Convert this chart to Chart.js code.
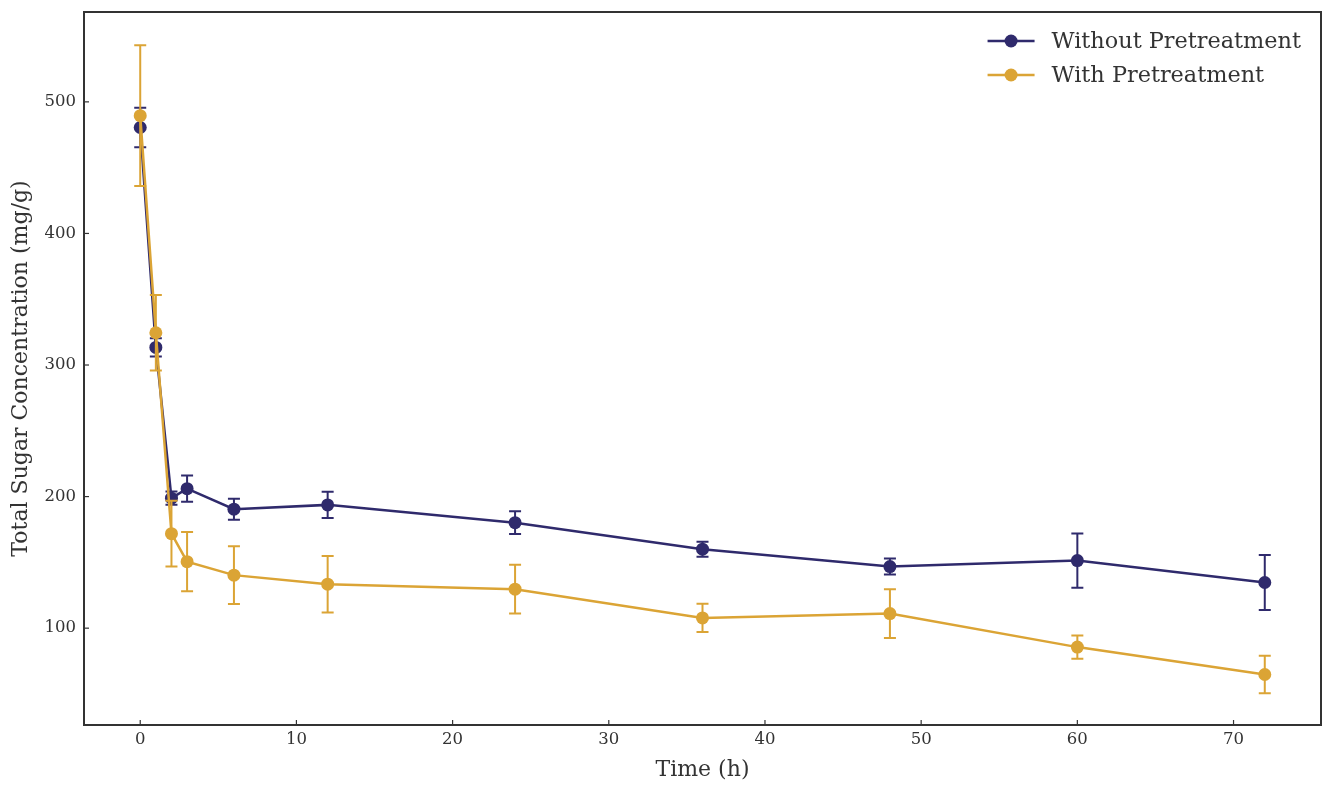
<!DOCTYPE html>
<html>
<head>
<meta charset="utf-8">
<script src="https://cdn.jsdelivr.net/npm/chart.js@4/dist/chart.umd.min.js"></script>
<style>
    body { margin: 0; background: #fff; }
    #wrap { width: 1332px; height: 790px; }
</style>
</head>
<body>
<div id="wrap"><canvas id="sugarChart" width="1332" height="790"></canvas></div>
<script>
// sampling times (h)
const hours = [0, 1, 2, 3, 6, 12, 24, 36, 48, 60, 72];

// total sugar, mg/g
const withoutMean = [480.5, 313.4, 198.8, 206.0, 190.4, 193.7, 180.2, 160.0, 146.8, 151.4, 134.7];
const withoutErr  = [15.0, 7.0, 5.0, 10.0, 8.0, 10.0, 8.6, 5.7, 6.1, 20.6, 20.9];
const withMean    = [489.5, 324.5, 171.8, 150.5, 140.3, 133.4, 129.6, 107.8, 111.1, 85.6, 64.8];
const withErr     = [53.5, 28.7, 25.0, 22.5, 22.0, 21.5, 18.5, 10.7, 18.5, 8.8, 14.2];

const xTicks = [0, 10, 20, 30, 40, 50, 60, 70];
const yTicks = [100, 200, 300, 400, 500];
const xLimits = [-3.6, 75.6];
const yLimits = [26.4, 568.3];

const NAVY = '#2f2a6c';
const GOLD = '#dba435';
const AXIS = '#333333';
const FONT = "'DejaVu Serif', serif";

const errors = [withoutErr, withErr];

function toPoints(ys) {
    return hours.map((h, i) => ({x: h, y: ys[i]}));
}

// error bars, under each dataset's own markers
const errorBars = {
    id: 'errorBars',
    beforeDatasetDraw(chart, args) {
        const ds = chart.data.datasets[args.index];
        const err = errors[args.index];
        const {x, y} = chart.scales;
        const ctx = chart.ctx;
        ctx.save();
        ctx.strokeStyle = ds.borderColor;
        ctx.lineWidth = 2;
        ds.data.forEach((p, i) => {
            const px = x.getPixelForValue(p.x);
            const top = y.getPixelForValue(p.y + err[i]);
            const bot = y.getPixelForValue(p.y - err[i]);
            ctx.beginPath();
            ctx.moveTo(px, top); ctx.lineTo(px, bot);
            ctx.moveTo(px - 6, top); ctx.lineTo(px + 6, top);
            ctx.moveTo(px - 6, bot); ctx.lineTo(px + 6, bot);
            ctx.stroke();
        });
        ctx.restore();
    }
};

// frame, inward ticks and the legend inside the axes
const frame = {
    id: 'frame',
    afterDraw(chart) {
        const {ctx, chartArea: a, scales} = chart;
        ctx.save();
        ctx.strokeStyle = AXIS;
        ctx.lineWidth = 1.2;
        xTicks.forEach(t => {
            const px = scales.x.getPixelForValue(t);
            ctx.beginPath(); ctx.moveTo(px, a.bottom); ctx.lineTo(px, a.bottom - 5); ctx.stroke();
        });
        yTicks.forEach(t => {
            const py = scales.y.getPixelForValue(t);
            ctx.beginPath(); ctx.moveTo(a.left, py); ctx.lineTo(a.left + 5, py); ctx.stroke();
        });
        ctx.lineWidth = 2;
        ctx.strokeRect(a.left, a.top, a.right - a.left, a.bottom - a.top);

        ctx.font = '22.4px ' + FONT;
        ctx.textBaseline = 'middle';
        const sets = chart.data.datasets;
        const w = Math.max(...sets.map(d => ctx.measureText(d.label).width));
        const tx = a.right - 20 - w;
        sets.forEach((d, i) => {
            const ly = a.top + 29 + i * 34;
            ctx.strokeStyle = d.borderColor;
            ctx.lineWidth = 2.5;
            ctx.beginPath(); ctx.moveTo(tx - 64, ly); ctx.lineTo(tx - 17, ly); ctx.stroke();
            ctx.fillStyle = d.backgroundColor;
            ctx.beginPath(); ctx.arc(tx - 40.5, ly, 6.5, 0, Math.PI * 2); ctx.fill();
            ctx.fillStyle = AXIS;
            ctx.fillText(d.label, tx, ly + 1);
        });
        ctx.restore();
    }
};

new Chart(document.getElementById('sugarChart'), {
    type: 'line',
    data: {
        datasets: [
            {
                label: 'Without Pretreatment',
                data: toPoints(withoutMean),
                borderColor: NAVY,
                backgroundColor: NAVY,
                borderWidth: 2.5,
                pointRadius: 6.5,
                pointBorderWidth: 0,
                order: 1
            },
            {
                label: 'With Pretreatment',
                data: toPoints(withMean),
                borderColor: GOLD,
                backgroundColor: GOLD,
                borderWidth: 2.5,
                pointRadius: 6.5,
                pointBorderWidth: 0,
                order: 0
            }
        ]
    },
    options: {
        responsive: false,
        animation: false,
        layout: { padding: { top: 12, right: 11 } },
        plugins: {
            legend: { display: false },
            tooltip: { enabled: false }
        },
        scales: {
            x: {
                type: 'linear',
                min: xLimits[0],
                max: xLimits[1],
                afterBuildTicks: s => { s.ticks = xTicks.map(v => ({value: v})); },
                afterFit: s => { s.height = 65; s.paddingLeft = 0; s.paddingRight = 0; },
                ticks: { color: AXIS, padding: 5, font: { family: FONT, size: 16.5 } },
                grid: { drawOnChartArea: false, drawTicks: false },
                border: { display: false },
                title: {
                    display: true,
                    text: 'Time (h)',
                    color: AXIS,
                    padding: { top: 0, bottom: 7 },
                    font: { family: FONT, size: 22 }
                }
            },
            y: {
                min: yLimits[0],
                max: yLimits[1],
                afterBuildTicks: s => { s.ticks = yTicks.map(v => ({value: v})); },
                afterFit: s => { s.width = 84; s.paddingTop = 0; s.paddingBottom = 0; },
                ticks: { color: AXIS, padding: 8, font: { family: FONT, size: 16.5 } },
                grid: { drawOnChartArea: false, drawTicks: false },
                border: { display: false },
                title: {
                    display: true,
                    text: 'Total Sugar Concentration (mg/g)',
                    color: AXIS,
                    padding: { top: 8, bottom: 0 },
                    font: { family: FONT, size: 22 }
                }
            }
        }
    },
    plugins: [errorBars, frame]
});
</script>
</body>
</html>
